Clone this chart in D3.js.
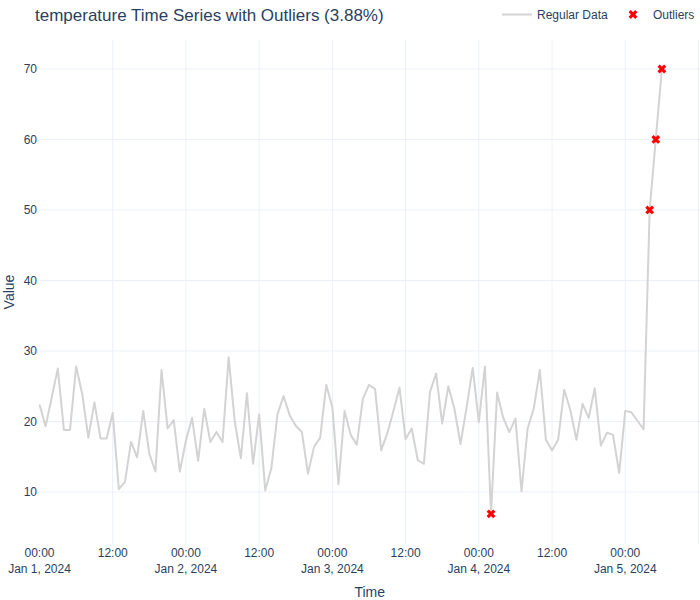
<!DOCTYPE html>
<html>
<head>
<meta charset="utf-8">
<script src="https://cdn.jsdelivr.net/npm/d3@7/dist/d3.min.js"></script>
<style>
  html, body { margin: 0; padding: 0; background: #fff; }
  svg { display: block; font-family: "Liberation Sans", Arial, sans-serif; }
</style>
</head>
<body>
<svg id="chart" width="700" height="600"></svg>
<script>
// ---- data ----
const startTime = new Date(2024, 0, 1, 0, 0, 0);
const values = [
  22.4, 19.3, 23.4, 27.5, 18.8, 18.8, 27.8, 23.9, 17.7, 22.7,
  17.6, 17.6, 21.2, 10.4, 11.4, 17.1, 14.9, 21.5, 15.4, 12.9,
  27.3, 19.0, 20.2, 12.9, 17.3, 20.5, 14.4, 21.8, 17.1, 18.5,
  17.1, 29.1, 20.0, 14.8, 24.0, 14.0, 21.0, 10.2, 13.4, 21.0,
  23.6, 20.9, 19.4, 18.5, 12.6, 16.4, 17.7, 25.2, 22.0, 11.1,
  21.5, 18.1, 16.7, 23.2, 25.2, 24.6, 15.9, 18.3, 21.5, 24.8,
  17.5, 19.0, 14.5, 14.0, 24.2, 26.8, 19.7, 25.0, 21.8, 16.8,
  22.0, 27.6, 19.9, 27.8, 6.9, 24.1, 20.5, 18.5, 20.4, 10.1,
  19.0, 21.8, 27.3, 17.4, 15.9, 17.4, 24.5, 21.6, 17.4, 22.5,
  20.5, 24.7, 16.6, 18.4, 18.1, 12.7, 21.5, 21.3, 20.1, 18.9,
  50.0, 60.0, 70.0
];
const times = values.map((v, i) => d3.timeHour.offset(startTime, i));
const outlierIndex = [74, 100, 101, 102];
const yTicks = [10, 20, 30, 40, 50, 60, 70];
const titleText = "temperature Time Series with Outliers (3.88%)";
const legendLabels = ["Regular Data", "Outliers"];

// ---- layout ----
const W = 700, H = 600;
const plot = { left: 39.5, right: 700, top: 40, bottom: 544 };
const textColor = "#2a3f5f";
const gridColor = "#ebf0f8";

const svg = d3.select("#chart");

const x = d3.scaleTime()
  .domain([startTime, d3.timeMinute.offset(startTime, 108.25 * 60)])
  .range([plot.left, plot.right]);
const y = d3.scaleLinear()
  .domain([2.62, 74.11])
  .range([plot.bottom, plot.top]);

const xTicks = d3.timeHour.every(12).range(x.domain()[0], d3.timeMinute.offset(x.domain()[1], 1));

// grid
const grid = svg.append("g");
grid.selectAll("line.v").data(xTicks.filter(t => x(t) > plot.left + 1)).enter().append("line")
  .attr("x1", d => x(d)).attr("x2", d => x(d))
  .attr("y1", plot.top).attr("y2", plot.bottom)
  .attr("stroke", gridColor).attr("stroke-width", 1);
grid.selectAll("line.h").data(yTicks).enter().append("line")
  .attr("x1", plot.left).attr("x2", plot.right)
  .attr("y1", d => y(d)).attr("y2", d => y(d))
  .attr("stroke", gridColor).attr("stroke-width", 1);

// y axis labels
const yAxis = d3.axisLeft(y).tickValues(yTicks).tickSize(0).tickPadding(2);
const gy = svg.append("g").attr("transform", `translate(${plot.left - 0.5},0)`).call(yAxis);
gy.select(".domain").remove();
gy.selectAll("text").attr("fill", textColor).style("font-size", "12px")
  .style("font-family", '"Liberation Sans", Arial, sans-serif');

// x axis labels (two lines)
const fmtTime = d3.timeFormat("%H:%M");
const fmtDate = d3.timeFormat("%b %-d, %Y");
const xLabelTicks = xTicks.filter(t => x(t) + 16 <= W);
const gx = svg.append("g");
const xl = gx.selectAll("g").data(xLabelTicks).enter().append("g")
  .attr("transform", d => `translate(${x(d)},0)`);
xl.append("text").attr("y", 557.3).attr("text-anchor", "middle")
  .attr("fill", textColor).style("font-size", "12px").text(d => fmtTime(d));
xl.filter(d => d.getHours() === 0).append("text").attr("y", 573.3).attr("text-anchor", "middle")
  .attr("fill", textColor).style("font-size", "12px").text(d => fmtDate(d));

// axis titles
svg.append("text").attr("x", (plot.left + plot.right) / 2).attr("y", 597)
  .attr("text-anchor", "middle").attr("fill", textColor).style("font-size", "14px").text("Time");
svg.append("text").attr("transform", `translate(14,${(plot.top + plot.bottom) / 2}) rotate(-90)`)
  .attr("text-anchor", "middle").attr("fill", textColor).style("font-size", "14px").text("Value");

// title
svg.append("text").attr("x", 35).attr("y", 20.5).attr("fill", textColor)
  .style("font-size", "17px").text(titleText);

// line
const clip = svg.append("clipPath").attr("id", "clip").append("rect")
  .attr("x", plot.left).attr("y", plot.top)
  .attr("width", plot.right - plot.left).attr("height", plot.bottom - plot.top);

const line = d3.line().x((d, i) => x(times[i])).y(d => y(d));
svg.append("path").datum(values)
  .attr("d", line).attr("fill", "none")
  .attr("stroke", "lightgray").attr("stroke-width", 2)
  .attr("stroke-linejoin", "round");

// outlier marker path (plotly-style x)
function xSymbol(rx) {
  const ne = `l${rx},${rx}`, se = `l${rx},-${rx}`, sw = `l-${rx},-${rx}`, nw = `l-${rx},${rx}`;
  return `M0,${rx}${ne}${se}${sw}${se}${sw}${nw}${sw}${nw}${ne}${nw}${ne}Z`;
}
const mk = xSymbol(2.2);
svg.append("g").selectAll("path").data(outlierIndex).enter().append("path")
  .attr("transform", i => `translate(${x(times[i])},${y(values[i])})`)
  .attr("d", mk).attr("fill", "red");

// legend
const lg = svg.append("g");
lg.append("line").attr("x1", 502).attr("x2", 532).attr("y1", 14.5).attr("y2", 14.5)
  .attr("stroke", "lightgray").attr("stroke-width", 2);
lg.append("text").attr("x", 537).attr("y", 19).attr("fill", textColor)
  .style("font-size", "12px").text(legendLabels[0]);
lg.append("path").attr("transform", "translate(633,14.5)").attr("d", mk).attr("fill", "red");
lg.append("text").attr("x", 653).attr("y", 19).attr("fill", textColor)
  .style("font-size", "12px").text(legendLabels[1]);
</script>
</body>
</html>
